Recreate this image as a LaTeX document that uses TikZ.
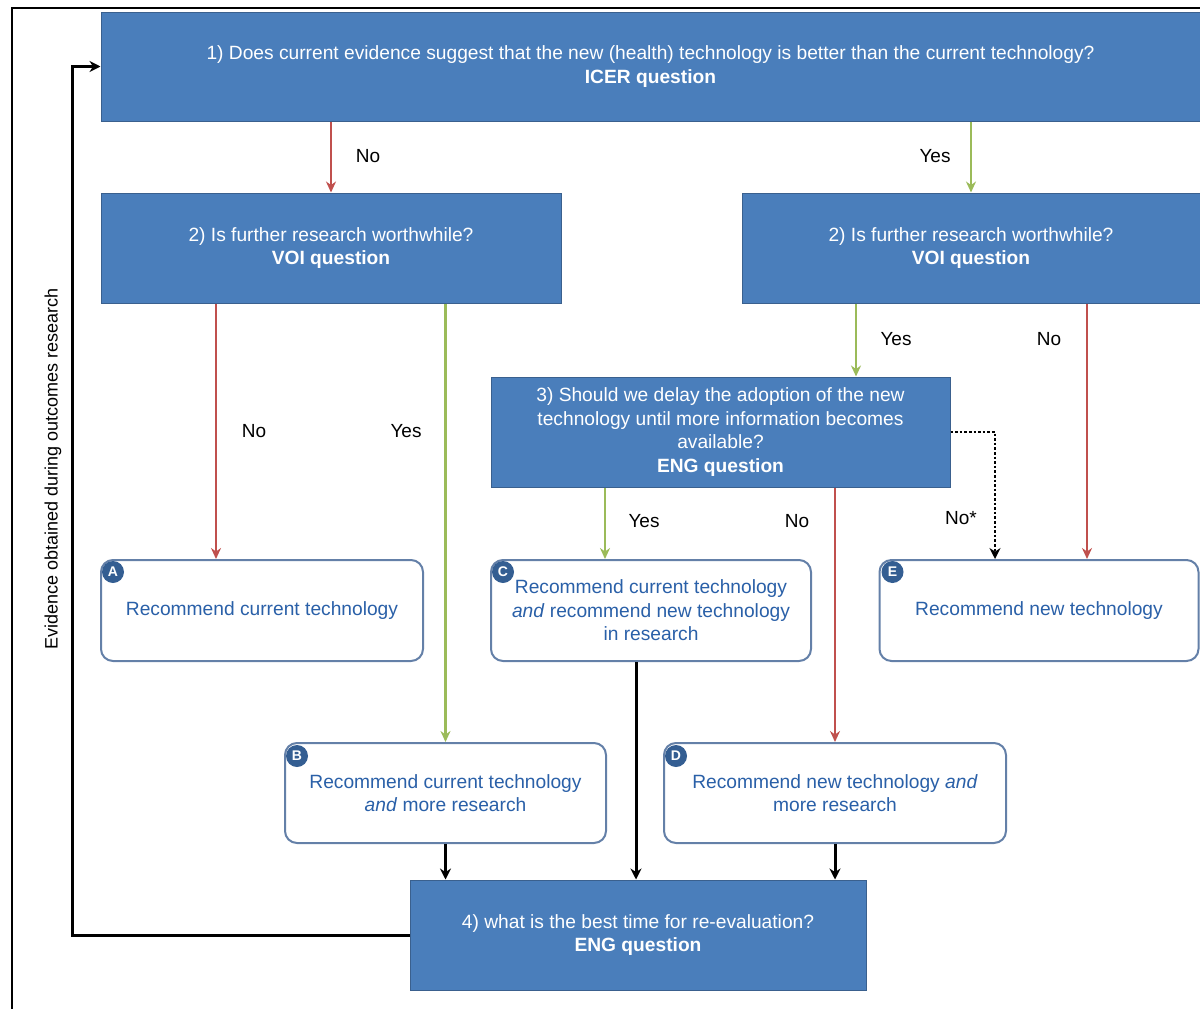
\documentclass[tikz,border=0pt]{standalone}
\usepackage{fontspec}
\setmainfont{Liberation Sans}
\usetikzlibrary{arrows.meta,calc}
\definecolor{qfill}{RGB}{74,126,187}
\definecolor{qdraw}{RGB}{58,96,142}
\definecolor{rbdraw}{RGB}{100,128,168}
\definecolor{rbtext}{RGB}{42,96,168}
\definecolor{badge}{RGB}{52,94,146}
\definecolor{nored}{RGB}{192,80,77}
\definecolor{yesgreen}{RGB}{155,187,89}
\begin{document}
\begin{tikzpicture}[x=1pt,y=-1pt,
  question/.style={rectangle,fill=qfill,draw=qdraw,line width=1pt,text=white,align=center,inner sep=0pt,
    font={\fontsize{19.2}{23.5}\selectfont}},
  rbox/.style={rectangle,rounded corners=12pt,fill=white,draw=rbdraw,line width=2pt,text=rbtext,align=center,inner sep=0pt,
    font={\fontsize{19.2}{23.5}\selectfont}},
  badgec/.style={circle,fill=badge,text=white,inner sep=0pt,minimum size=22pt,font={\fontsize{14}{14}\selectfont\bfseries}},
  lab/.style={font={\fontsize{19}{22}\selectfont},text=black},
  noarr/.style={draw=nored,line width=2.8pt,-{Stealth[length=11pt,width=10pt]}},
  yesarr/.style={draw=yesgreen,line width=2.8pt,-{Stealth[length=11pt,width=10pt]}},
  blkarr/.style={draw=black,line width=3pt,-{Stealth[length=11pt,width=11pt]}},
  dotarr/.style={draw=black,line width=2.6pt,dotted,-{Stealth[length=11pt,width=11pt]}}
]
\useasboundingbox (0,0) rectangle (1200,1009);
% frame
\draw[line width=1.6pt] (12,1009) -- (12,8) -- (1200,8);

% question boxes
\node[question,minimum width=1099pt,minimum height=109pt] (q1) at (650.5,66.5)
  {1) Does current evidence suggest that the new (health) technology is better than the current technology?\\ \textbf{ICER question}};
\node[question,minimum width=460pt,minimum height=110pt] (q2l) at (331,248)
  {2) Is further research worthwhile?\\ \textbf{VOI question}};
\node[question,minimum width=458pt,minimum height=110pt] (q2r) at (971,248)
  {2) Is further research worthwhile?\\ \textbf{VOI question}};
\node[question,minimum width=459pt,minimum height=110pt] (q3) at (720.5,432)
  {3) Should we delay the adoption of the new\\ technology until more information becomes\\ available?\\ \textbf{ENG question}};
\node[question,minimum width=456pt,minimum height=110pt] (q4) at (638,935)
  {4) what is the best time for re-evaluation?\\ \textbf{ENG question}};

% recommendation boxes
\node[rbox,minimum width=322pt,minimum height=101pt] (A) at (262,610.5) {Recommend current technology};
\node[rbox,minimum width=320pt,minimum height=101pt] (C) at (651,610.5)
  {Recommend current technology\\ \textit{and} recommend new technology\\ in research};
\node[rbox,minimum width=319pt,minimum height=101pt] (E) at (1039,610.5) {Recommend new technology};
\node[rbox,minimum width=321pt,minimum height=100pt] (B) at (445.5,793)
  {Recommend current technology\\ \textit{and} more research};
\node[rbox,minimum width=342pt,minimum height=100pt] (D) at (835,793)
  {Recommend new technology \textit{and}\\ more research};

% badges
\node[badgec] (bA) at ($(A.north west)+(13,13)$) {A};
\node[badgec] (bC) at ($(C.north west)+(13,13)$) {C};
\node[badgec] (bE) at ($(E.north west)+(14,13)$) {E};
\node[badgec] (bB) at ($(B.north west)+(13,14)$) {B};
\node[badgec] (bD) at ($(D.north west)+(13,14)$) {D};

% connectors from q1
\draw[noarr] (q1.south -| q2l) -- (q2l.north);
\draw[yesarr] (q1.south -| q2r) -- (q2r.north);
\node[lab] (l1) at (368,156) {No};
\node[lab] (l2) at (935,156) {Yes};

% from q2l
\draw[noarr] (q2l.south -| 216,0) -- (216,0 |- A.north);
\draw[yesarr] (q2l.south -| B) -- (B.north);
\node[lab] (l3) at (254,431) {No};
\node[lab] (l4) at (406,431) {Yes};

% from q2r
\draw[yesarr] (q2r.south -| 856,0) -- (856,0 |- q3.north);
\draw[noarr] (q2r.south -| 1087,0) -- (1087,0 |- E.north);
\node[lab] (l5) at (896,339) {Yes};
\node[lab] (l6) at (1049,339) {No};

% from q3
\draw[yesarr] (q3.south -| 605,0) -- (605,0 |- C.north);
\draw[noarr] (q3.south -| D) -- (D.north);
\draw[dotarr] (q3.east) -- (995,432) -- (995,0 |- E.north);
\node[lab] (l7) at (644,521) {Yes};
\node[lab] (l8) at (797,521) {No};
\node[lab] (l9) at (961,518) {No*};

% to q4
\draw[blkarr] (B.south) -- (B.south |- q4.north);
\draw[blkarr] (636,0 |- C.south) -- (636,0 |- q4.north);
\draw[blkarr] (D.south) -- (D.south |- q4.north);

% feedback loop
\draw[blkarr] (q4.west) -- (72,935) |- (q1.west);
\node[lab,rotate=90,font={\fontsize{18}{20}\selectfont}] (ev) at (53,469) {Evidence obtained during outcomes research};
\end{tikzpicture}
\end{document}
